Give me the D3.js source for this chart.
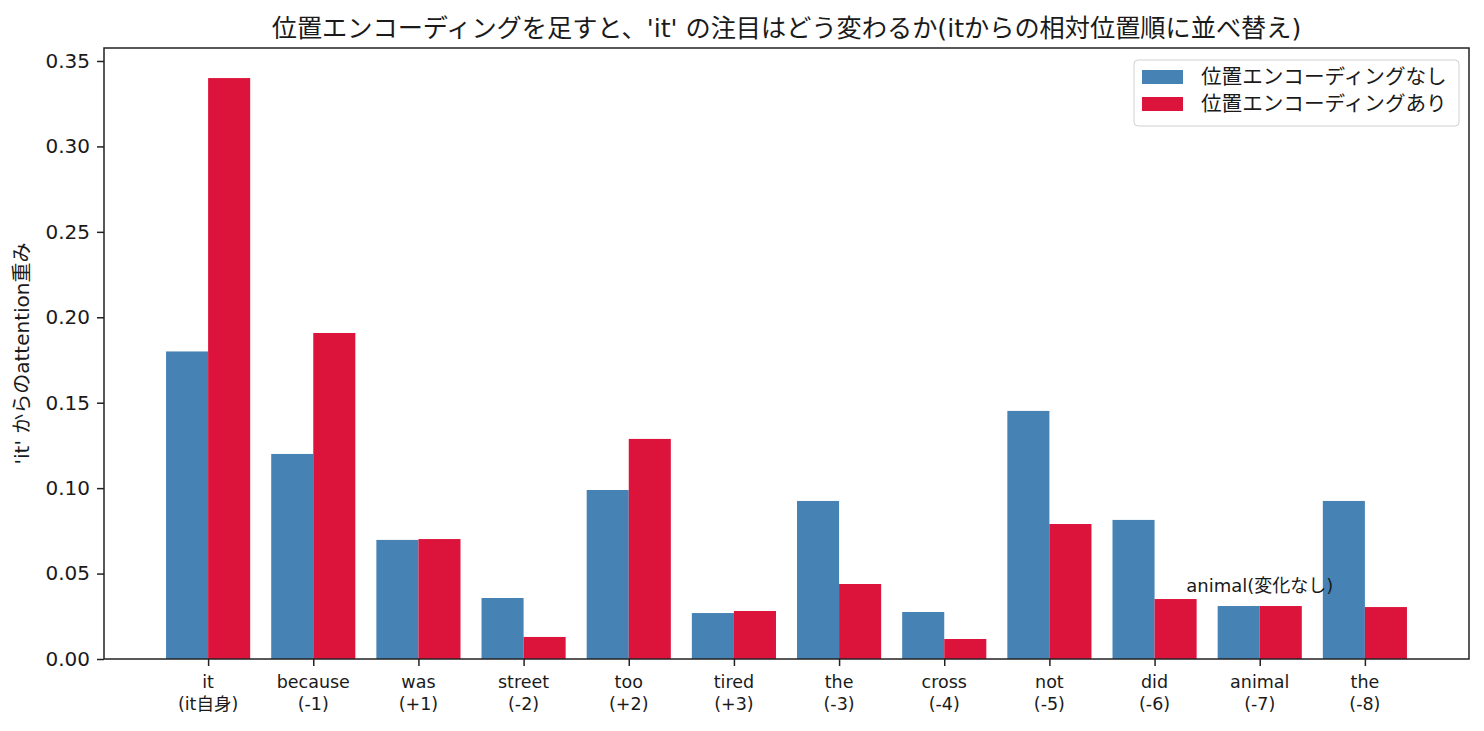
<!DOCTYPE html>
<html>
<head>
<meta charset="utf-8">
<script src="https://d3js.org/d3.v7.min.js"></script>
<style>
  body { margin: 0; background: #fff; }
  text { font-family: "DejaVu Sans", "Noto Sans CJK JP", sans-serif; fill: #1a1a1a; }
</style>
</head>
<body>
<div id="chart"></div>
<script>
// tokens, ordered by relative distance from 'it'
var words = ["it", "because", "was", "street", "too", "tired", "the", "cross", "not", "did", "animal", "the"];
var relPos = ["(it自身)", "(-1)", "(+1)", "(-2)", "(+2)", "(+3)", "(-3)", "(-4)", "(-5)", "(-6)", "(-7)", "(-8)"];
var noPE = [0.180, 0.120, 0.0697, 0.0357, 0.0989, 0.0269, 0.0925, 0.0275, 0.1452, 0.0814, 0.031, 0.0925];
var withPE = [0.340, 0.1908, 0.0702, 0.0129, 0.1288, 0.0281, 0.0439, 0.0117, 0.079, 0.0351, 0.031, 0.0304];
var seriesNames = ["位置エンコーディングなし", "位置エンコーディングあり"];
var yTicks = [0, 0.05, 0.10, 0.15, 0.20, 0.25, 0.30, 0.35];

var W = 1484, H = 731;
var margin = {top: 48, right: 15, bottom: 72, left: 104};
var width = W - margin.left - margin.right,
    height = H - margin.top - margin.bottom;
var barW = 0.4;

var svg = d3.select("#chart").append("svg")
    .attr("width", W).attr("height", H);
var g = svg.append("g")
    .attr("transform", "translate(" + margin.left + "," + margin.top + ")");

var x = d3.scaleLinear().domain([-0.99, 11.99]).range([0, width]);
var y = d3.scaleLinear().domain([0, 0.3576]).range([height, 0]);

// bars
g.selectAll(".b1").data(noPE).enter().append("rect")
    .attr("x", function(d, i) { return x(i - barW); })
    .attr("width", function(d, i) { return x(i) - x(i - barW); })
    .attr("y", function(d) { return y(d); })
    .attr("height", function(d) { return y(0) - y(d); })
    .attr("fill", "steelblue");
g.selectAll(".b2").data(withPE).enter().append("rect")
    .attr("x", function(d, i) { return x(i); })
    .attr("width", function(d, i) { return x(i + barW) - x(i); })
    .attr("y", function(d) { return y(d); })
    .attr("height", function(d) { return y(0) - y(d); })
    .attr("fill", "crimson");

// annotation over animal
var ai = words.indexOf("animal");
g.append("text")
    .attr("x", x(ai))
    .attr("y", y(withPE[ai] + 0.0085))
    .attr("text-anchor", "middle")
    .style("font-size", "18px")
    .text("animal(変化なし)");

// y axis
var yAxis = g.append("g")
    .call(d3.axisLeft(y).tickValues(yTicks).tickFormat(d3.format(".2f")).tickSize(7).tickPadding(7));
yAxis.select(".domain").remove();
yAxis.selectAll("line").attr("stroke", "#222").attr("stroke-width", 1.5);
yAxis.selectAll("text").style("font-size", "20px").attr("fill", "#1a1a1a");

// x axis
var xAxis = g.append("g")
    .attr("transform", "translate(0," + height + ")")
    .call(d3.axisBottom(x).tickValues(d3.range(words.length)).tickFormat("").tickSize(7));
xAxis.select(".domain").remove();
xAxis.selectAll("line").attr("stroke", "#222").attr("stroke-width", 1.5);
var xl = g.append("g").selectAll("text").data(words).enter().append("text")
    .attr("x", function(d, i) { return x(i); })
    .attr("text-anchor", "middle")
    .style("font-size", "17.5px");
xl.append("tspan").attr("x", function(d, i) { return x(i); }).attr("y", height + 29).text(function(d) { return d; });
xl.append("tspan").attr("x", function(d, i) { return x(i); }).attr("y", height + 51).text(function(d, i) { return relPos[i]; });

// frame
g.append("rect")
    .attr("width", width).attr("height", height)
    .attr("fill", "none").attr("stroke", "#222").attr("stroke-width", 1.5);

// y label
svg.append("text")
    .attr("transform", "translate(29," + (margin.top + height / 2) + ") rotate(-90)")
    .attr("text-anchor", "middle")
    .style("font-size", "20px")
    .text("'it' からのattention重み");

// title
svg.append("text")
    .attr("x", margin.left + width / 2)
    .attr("y", 37)
    .attr("text-anchor", "middle")
    .style("font-size", "25.2px")
    .text("位置エンコーディングを足すと、'it' の注目はどう変わるか(itからの相対位置順に並べ替え)");

// legend
var lg = svg.append("g").attr("transform", "translate(1134,60)");
lg.append("rect")
    .attr("width", 325).attr("height", 66).attr("rx", 4)
    .attr("fill", "#fff").attr("fill-opacity", 0.8)
    .attr("stroke", "#d0d0d0");
[["steelblue", seriesNames[0]], ["crimson", seriesNames[1]]].forEach(function(s, i) {
  lg.append("rect").attr("x", 8).attr("y", 10 + i * 27).attr("width", 41).attr("height", 14).attr("fill", s[0]);
  lg.append("text").attr("x", 67).attr("y", 24 + i * 27).style("font-size", "20.6px").text(s[1]);
});
</script>
</body>
</html>
